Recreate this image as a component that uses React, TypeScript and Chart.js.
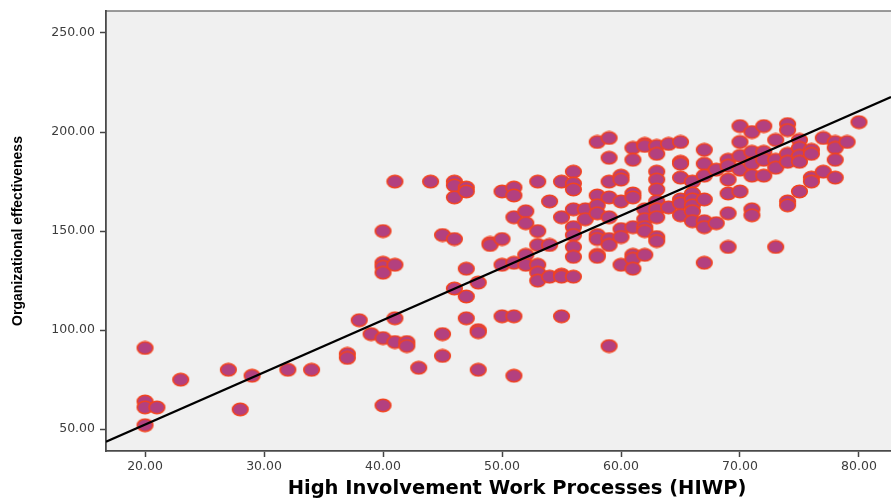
import React, { useEffect, useRef } from "react";
import { Chart, registerables } from "chart.js";

Chart.register(...registerables);

// High Involvement Work Processes (x) for each respondent
const hiwp = [
  20, 20, 20, 20,
  21, 23, 27, 28, 29, 32, 34,
  37, 37, 38, 39,
  40, 40, 40, 40, 40, 40,
  41, 41, 41, 41,
  42, 42, 43, 44,
  45, 45, 45,
  46, 46, 46, 46, 46,
  47, 47, 47, 47, 47,
  48, 48, 48, 48,
  49, 49,
  50, 50, 50, 50,
  51, 51, 51, 51, 51, 51,
  52, 52, 52, 52,
  53, 53, 53, 53, 53, 53,
  54, 54, 54,
  55, 55, 55, 55, 55,
  56, 56, 56, 56, 56, 56, 56, 56, 56,
  57, 57,
  58, 58, 58, 58, 58, 58, 58, 58,
  59, 59, 59, 59, 59, 59, 59, 59,
  60, 60, 60, 60, 60, 60,
  61, 61, 61, 61, 61, 61, 61, 61,
  62, 62, 62, 62, 62, 62, 62,
  63, 63, 63, 63, 63, 63, 63, 63, 63, 63,
  64, 64,
  65, 65, 65, 65, 65, 65, 65,
  66, 66, 66, 66, 66, 66,
  67, 67, 67, 67, 67, 67, 67,
  68, 68,
  69, 69, 69, 69, 69, 69,
  70, 70, 70, 70, 70,
  71, 71, 71, 71, 71, 71,
  72, 72, 72, 72,
  73, 73, 73, 73,
  74, 74, 74, 74, 74, 74,
  75, 75, 75, 75, 75,
  76, 76, 76, 76,
  77, 77,
  78, 78, 78, 78,
  79, 80,
];

// Organizational effectiveness (y), same order as hiwp
const orgEff = [
  91, 64, 61, 52,
  61, 75, 80, 60, 77, 80, 80,
  88, 86, 105, 98,
  150, 134, 132, 129, 96, 62,
  175, 133, 106, 94,
  94, 92, 81, 175,
  148, 98, 87,
  175, 173, 167, 146, 121,
  172, 170, 131, 117, 106,
  124, 100, 99, 80,
  144, 143,
  170, 146, 133, 107,
  172, 168, 157, 134, 107, 77,
  160, 154, 138, 133,
  175, 150, 143, 133, 129, 125,
  165, 143, 127,
  175, 157, 128, 127, 107,
  180, 174, 171, 161, 152, 148, 142, 137, 127,
  161, 156,
  195, 168, 163, 159, 148, 146, 138, 137,
  197, 187, 175, 167, 157, 146, 143, 92,
  178, 176, 165, 151, 147, 133,
  192, 186, 169, 167, 152, 138, 136, 131,
  194, 193, 161, 156, 152, 150, 138,
  193, 189, 180, 176, 171, 165, 161, 157, 147, 145,
  194, 162,
  195, 185, 184, 177, 166, 164, 158,
  175, 169, 166, 163, 160, 155,
  191, 184, 178, 166, 155, 152, 134,
  181, 154,
  186, 183, 176, 169, 159, 142,
  203, 195, 188, 181, 170,
  200, 190, 184, 178, 161, 158,
  203, 190, 186, 178,
  196, 186, 182, 142,
  204, 201, 189, 185, 165, 163,
  196, 192, 188, 185, 170,
  191, 189, 177, 175,
  197, 180,
  195, 192, 186, 177,
  195, 205,
];

const xTicks = [20, 30, 40, 50, 60, 70, 80];
const yTicks = [50, 100, 150, 200, 250];

// Fit line
const fitIntercept = -0.41;
const fitSlope = 2.638;

const xTitle = "High Involvement Work Processes (HIWP)";
const yTitle = "Organizational effectiveness";

const X_MIN = 16.72;
const X_MAX = 82.69;
const Y_MIN = 39.0;
const Y_MAX = 261.1;

function makeMarker(): HTMLCanvasElement {
  const c = document.createElement("canvas");
  c.width = 19;
  c.height = 15;
  const ctx = c.getContext("2d")!;
  ctx.beginPath();
  ctx.ellipse(9.5, 7.5, 7.8, 6.2, 0, 0, Math.PI * 2);
  ctx.fillStyle = "#b3407f";
  ctx.fill();
  ctx.lineWidth = 1.6;
  ctx.strokeStyle = "#f2431f";
  ctx.stroke();
  return c;
}

const decorPlugin = {
  id: "decor",
  beforeDraw(chart: any) {
    const { ctx, chartArea: a } = chart;
    ctx.save();
    ctx.fillStyle = "#f0f0f0";
    ctx.fillRect(a.left, a.top, a.right - a.left, a.bottom - a.top);
    ctx.strokeStyle = "#7a7a7a";
    ctx.lineWidth = 1.5;
    ctx.beginPath();
    ctx.moveTo(a.left, a.top);
    ctx.lineTo(a.right, a.top);
    ctx.stroke();
    ctx.restore();
  },
  afterDraw(chart: any) {
    const { ctx, chartArea: a } = chart;
    ctx.save();
    ctx.fillStyle = "#000000";
    ctx.textAlign = "center";
    ctx.textBaseline = "middle";
    ctx.font = "bold 19.5px 'DejaVu Sans'";
    ctx.fillText(xTitle, 517, a.bottom + 38);
    ctx.translate(18, a.top + (a.bottom - a.top) * 0.5);
    ctx.rotate(-Math.PI / 2);
    ctx.font = "bold 14px 'Liberation Sans'";
    ctx.fillText(yTitle, 0, 0);
    ctx.restore();
  },
};

export default function App() {
  const ref = useRef<HTMLCanvasElement | null>(null);

  useEffect(() => {
    if (!ref.current) return;
    const marker = makeMarker();
    const points = hiwp.map((x, i) => ({ x, y: orgEff[i] }));
    const fitLine = [X_MIN, X_MAX].map((x) => ({ x, y: fitIntercept + fitSlope * x }));
    const tickFont = { family: "'DejaVu Sans'", size: 12.5 };

    const chart = new Chart(ref.current, {
      type: "scatter",
      data: {
        datasets: [
          {
            type: "line",
            label: "Fit",
            data: fitLine,
            borderColor: "#000000",
            borderWidth: 2.2,
            pointRadius: 0,
            fill: false,
            order: 0,
          } as any,
          {
            label: "Respondents",
            data: points,
            pointStyle: marker,
            pointRadius: 8,
            order: 1,
          } as any,
        ],
      },
      options: {
        animation: false,
        responsive: false,
        events: [],
        layout: { autoPadding: false, padding: { top: 11, left: 0, right: 0, bottom: 0 } },
        plugins: {
          legend: { display: false },
          tooltip: { enabled: false },
        },
        scales: {
          x: {
            type: "linear",
            min: X_MIN,
            max: X_MAX,
            afterBuildTicks: (s: any) => {
              s.ticks = xTicks.map((v) => ({ value: v }));
            },
            afterFit: (s: any) => {
              s.height = 48;
              s.paddingLeft = 0;
              s.paddingRight = 0;
            },
            ticks: {
              callback: (v: any) => Number(v).toFixed(2),
              font: tickFont,
              color: "#3c3c3c",
              padding: 2,
              maxRotation: 0,
              autoSkip: false,
            },
            grid: {
              drawOnChartArea: false,
              drawTicks: true,
              tickLength: 6,
              tickColor: "#444444",
              tickWidth: 1.5,
            },
            border: { display: true, color: "#4a4a4a", width: 1.8 },
          },
          y: {
            type: "linear",
            min: Y_MIN,
            max: Y_MAX,
            afterBuildTicks: (s: any) => {
              s.ticks = yTicks.map((v) => ({ value: v }));
            },
            afterFit: (s: any) => {
              s.width = 106;
              s.paddingTop = 0;
              s.paddingBottom = 0;
            },
            ticks: {
              callback: (v: any) => Number(v).toFixed(2),
              font: tickFont,
              color: "#3c3c3c",
              padding: 5,
              autoSkip: false,
            },
            grid: {
              drawOnChartArea: false,
              drawTicks: true,
              tickLength: 6,
              tickColor: "#444444",
              tickWidth: 1.5,
            },
            border: { display: true, color: "#4a4a4a", width: 1.8 },
          },
        },
      },
      plugins: [decorPlugin],
    });
    return () => chart.destroy();
  }, []);

  return (
    <div style={{ position: "fixed", left: 0, top: 0, width: 891, height: 499, background: "#ffffff" }}>
      <canvas ref={ref} width={891} height={499} style={{ display: "block" }} />
    </div>
  );
}
